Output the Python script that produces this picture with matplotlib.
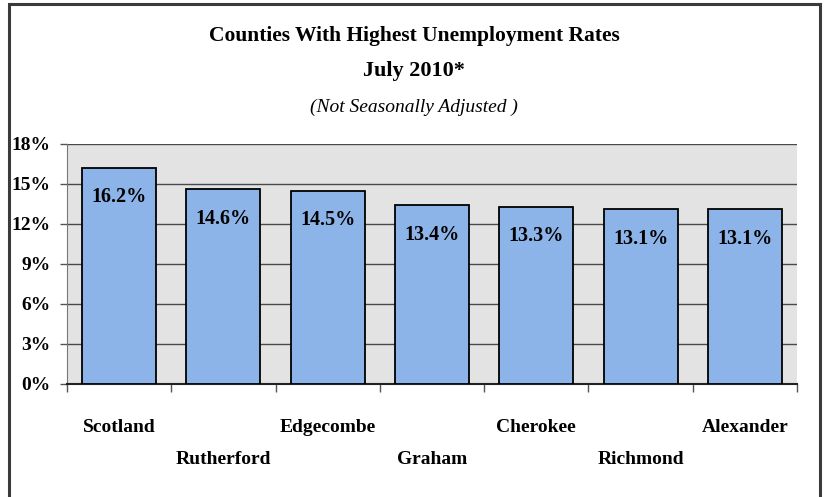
import matplotlib
matplotlib.use("Agg")
import matplotlib.pyplot as plt
from matplotlib.patches import Rectangle

counties = ["Scotland", "Rutherford", "Edgecombe", "Graham", "Cherokee", "Richmond", "Alexander"]
rates = [16.2, 14.6, 14.5, 13.4, 13.3, 13.1, 13.1]
yticks = [0, 3, 6, 9, 12, 15, 18]
ytick_labels = ["0%", "3%", "6%", "9%", "12%", "15%", "18%"]
title1 = "Counties With Highest Unemployment Rates"
title2 = "July 2010*"
subtitle = "(Not Seasonally Adjusted )"

FONT = "Liberation Serif"

fig = plt.figure(figsize=(8.26, 4.97), dpi=100)
ax = fig.add_axes([67/826, 1-384/497, (797-67)/826, (384-144)/497])

ax.set_facecolor("#E3E3E3")
x = list(range(len(counties)))
ax.bar(x, rates, width=0.71, color="#8DB4E8", edgecolor="black", linewidth=1.3, zorder=3)

for xi, v in zip(x, rates):
    ax.text(xi, v - 2.2, f"{v:.1f}%", ha="center", va="center",
            fontsize=14.5, fontweight="bold", family=FONT, zorder=4)

ax.set_xlim(-0.5, len(counties) - 0.5)
ax.set_ylim(0, 18)
ax.set_yticks(yticks)
ax.set_yticklabels(ytick_labels, fontsize=14, fontweight="bold", family=FONT)
ax.yaxis.grid(True, color="#4a4a4a", linewidth=1.0, zorder=1)
ax.set_axisbelow(True)
ax.tick_params(axis="y", length=5, width=1, color="#555555", pad=7)

# category boundary ticks
ax.set_xticks([i - 0.5 for i in range(len(counties) + 1)])
ax.set_xticklabels([])
ax.tick_params(axis="x", length=6, width=1, color="#555555")

for s in ["top", "right"]:
    ax.spines[s].set_visible(False)
ax.spines["left"].set_color("#777777")
ax.spines["bottom"].set_color("#222222")
ax.spines["bottom"].set_linewidth(1.5)

# staggered category labels
for i, name in enumerate(counties):
    y = 427 if i % 2 == 0 else 460
    fig.text((67 + (i + 0.5) * (730/7)) / 826, 1 - y/497, name, ha="center", va="center",
             fontsize=14, fontweight="bold", family=FONT)

fig.text(414/826, 1 - 36/497, title1, ha="center", va="center",
         fontsize=15.5, fontweight="bold", family=FONT)
fig.text(414/826, 1 - 71/497, title2, ha="center", va="center",
         fontsize=16, fontweight="bold", family=FONT)
fig.text(414/826, 1 - 107/497, subtitle, ha="center", va="center",
         fontsize=14, fontstyle="italic", family=FONT)

fig.patches.append(Rectangle((8.5/826, -0.05), (820-8.5)/826, 1.05 - 4/497,
                             transform=fig.transFigure, fill=False,
                             edgecolor="#3a3a3a", linewidth=2.2))

fig.savefig("out.png", dpi=100)
